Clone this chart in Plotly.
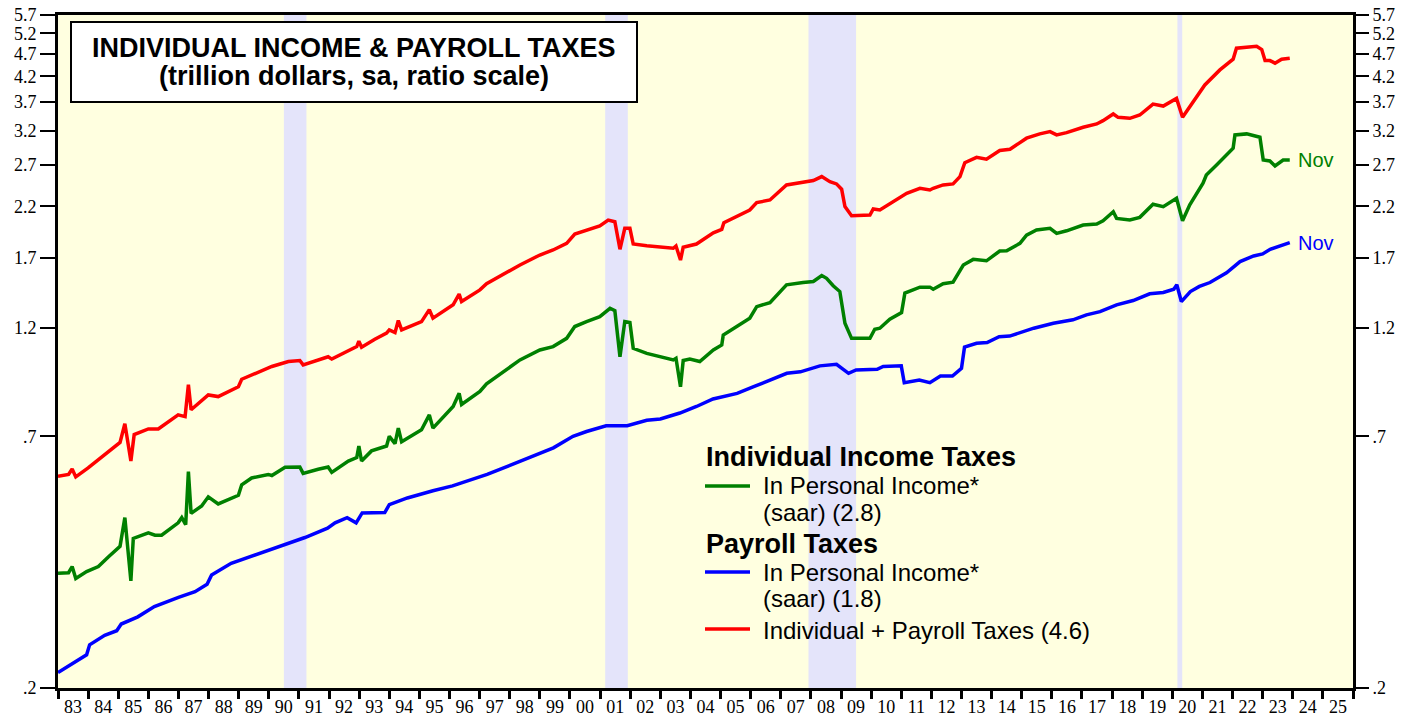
import math
import plotly.graph_objects as go

# ---------------- data (trillion dollars, saar) ----------------
blue_t = [1983.0, 1983.55, 1983.95, 1984.05, 1984.55, 1984.95, 1985.1, 1985.65, 1986.2, 1987.0,
          1987.55, 1987.95, 1988.1, 1988.75, 1989.55, 1990.45, 1991.2, 1991.95, 1992.2, 1992.6,
          1992.9, 1993.1, 1993.85, 1994.0, 1994.6, 1995.45, 1996.1, 1997.25, 1998.35, 1999.45,
          2000.1, 2000.55, 2001.2, 2001.9, 2002.55, 2003.0, 2003.65, 2004.2, 2004.75, 2005.55,
          2006.1, 2006.65, 2007.2, 2007.65, 2008.3, 2008.85, 2009.25, 2009.5, 2010.2, 2010.4,
          2011.0, 2011.1, 2011.6, 2011.95, 2012.3, 2012.7, 2013.0, 2013.1, 2013.5, 2013.85,
          2014.25, 2014.6, 2015.4, 2016.05, 2016.7, 2017.15, 2017.6, 2018.15, 2018.7, 2019.25,
          2019.7, 2020.05, 2020.15, 2020.3, 2020.6, 2020.9, 2021.25, 2021.8, 2022.25, 2022.7,
          2023.0, 2023.25, 2023.9]
blue_v = [0.216, 0.227, 0.236, 0.248, 0.260, 0.266, 0.275, 0.285, 0.300, 0.314,
          0.323, 0.335, 0.351, 0.372, 0.388, 0.407, 0.423, 0.443, 0.455, 0.467,
          0.455, 0.478, 0.479, 0.498, 0.515, 0.534, 0.547, 0.579, 0.619, 0.661,
          0.700, 0.717, 0.738, 0.738, 0.758, 0.763, 0.786, 0.812, 0.843, 0.867,
          0.896, 0.926, 0.958, 0.965, 0.994, 1.002, 0.958, 0.974, 0.977, 0.991,
          0.994, 0.914, 0.926, 0.914, 0.945, 0.945, 0.982, 1.091, 1.112, 1.116,
          1.149, 1.153, 1.199, 1.229, 1.250, 1.281, 1.302, 1.347, 1.376, 1.423,
          1.432, 1.456, 1.488, 1.369, 1.439, 1.476, 1.505, 1.580, 1.670, 1.718,
          1.735, 1.776, 1.835]

green_t = [1983.0, 1983.35, 1983.47, 1983.59, 1983.95, 1984.34, 1984.67, 1985.06, 1985.22, 1985.42,
           1985.5, 1986.0, 1986.22, 1986.44, 1986.99, 1987.11, 1987.24, 1987.33, 1987.42, 1987.77,
           1987.99, 1988.32, 1988.99, 1989.1, 1989.43, 1989.98, 1990.1, 1990.54, 1991.03, 1991.14,
           1991.64, 1991.97, 1992.09, 1992.64, 1992.92, 1992.99, 1993.08, 1993.41, 1993.91, 1994.0,
           1994.19, 1994.3, 1994.41, 1995.07, 1995.33, 1995.45, 1996.12, 1996.32, 1996.4, 1997.01,
           1997.23, 1998.34, 1999.0, 1999.44, 1999.89, 2000.16, 2000.55, 2000.99, 2001.33, 2001.49,
           2001.66, 2001.82, 2001.99, 2002.1, 2002.55, 2002.99, 2003.43, 2003.52, 2003.67, 2003.76,
           2003.98, 2004.31, 2004.76, 2005.04, 2005.09, 2005.97, 2006.2, 2006.64, 2007.19, 2007.74,
           2008.08, 2008.36, 2008.52, 2008.74, 2008.96, 2009.13, 2009.35, 2009.96, 2010.12, 2010.29,
           2010.62, 2011.01, 2011.12, 2011.62, 2011.95, 2012.06, 2012.39, 2012.72, 2013.06, 2013.39,
           2013.83, 2014.27, 2014.5, 2014.94, 2015.16, 2015.49, 2015.94, 2016.16, 2016.49, 2017.04,
           2017.49, 2017.7, 2018.04, 2018.15, 2018.59, 2018.92, 2019.36, 2019.7, 2020.14, 2020.34,
           2020.58, 2021.02, 2021.13, 2021.47, 2022.02, 2022.08, 2022.47, 2022.91, 2023.02, 2023.24,
           2023.41, 2023.68, 2023.9]
green_v = [0.354, 0.355, 0.366, 0.345, 0.357, 0.366, 0.384, 0.405, 0.467, 0.341,
           0.421, 0.433, 0.428, 0.428, 0.455, 0.467, 0.451, 0.587, 0.477, 0.495,
           0.518, 0.500, 0.522, 0.550, 0.569, 0.579, 0.576, 0.600, 0.601, 0.582,
           0.594, 0.601, 0.585, 0.619, 0.630, 0.667, 0.619, 0.651, 0.667, 0.700,
           0.675, 0.729, 0.681, 0.723, 0.779, 0.729, 0.812, 0.867, 0.820, 0.875,
           0.909, 1.024, 1.076, 1.094, 1.140, 1.209, 1.239, 1.270, 1.324, 1.308,
           1.040, 1.239, 1.233, 1.085, 1.058, 1.040, 1.024, 1.032, 0.896, 1.021,
           1.028, 1.016, 1.076, 1.103, 1.159, 1.260, 1.335, 1.362, 1.488, 1.505,
           1.513, 1.558, 1.537, 1.481, 1.439, 1.229, 1.140, 1.140, 1.193, 1.199,
           1.254, 1.296, 1.428, 1.471, 1.471, 1.456, 1.496, 1.508, 1.642, 1.689,
           1.677, 1.760, 1.763, 1.829, 1.906, 1.955, 1.971, 1.922, 1.947, 2.004,
           2.014, 2.047, 2.141, 2.071, 2.055, 2.082, 2.222, 2.196, 2.289, 2.047,
           2.215, 2.467, 2.570, 2.702, 2.937, 3.138, 3.154, 3.102, 2.770, 2.756,
           2.689, 2.770, 2.770]

red_t = [1983.0, 1983.35, 1983.47, 1983.59, 1984.0, 1984.56, 1985.06, 1985.22, 1985.42, 1985.53,
         1986.0, 1986.33, 1986.99, 1987.22, 1987.33, 1987.42, 1987.99, 1988.32, 1988.99, 1989.1,
         1989.54, 1990.1, 1990.65, 1991.03, 1991.14, 1991.97, 1992.09, 1992.64, 1992.92, 1992.99,
         1993.08, 1993.52, 1993.91, 1994.0, 1994.19, 1994.3, 1994.41, 1995.07, 1995.33, 1995.45,
         1996.12, 1996.32, 1996.4, 1997.01, 1997.23, 1998.34, 1999.0, 1999.44, 1999.89, 2000.16,
         2000.55, 2000.99, 2001.27, 2001.49, 2001.66, 2001.82, 2001.99, 2002.1, 2002.55, 2002.99,
         2003.43, 2003.52, 2003.67, 2003.76, 2004.2, 2004.76, 2005.04, 2005.11, 2005.97, 2006.2,
         2006.64, 2007.19, 2007.74, 2008.08, 2008.36, 2008.63, 2008.85, 2009.02, 2009.13, 2009.35,
         2009.96, 2010.07, 2010.29, 2010.62, 2010.95, 2011.18, 2011.62, 2011.95, 2012.06, 2012.39,
         2012.72, 2012.95, 2013.11, 2013.5, 2013.83, 2014.27, 2014.61, 2015.16, 2015.6, 2015.94,
         2016.16, 2016.49, 2017.04, 2017.49, 2017.7, 2018.04, 2018.2, 2018.59, 2018.92, 2019.36,
         2019.7, 2020.14, 2020.34, 2020.58, 2021.08, 2021.58, 2022.02, 2022.13, 2022.47, 2022.8,
         2022.97, 2023.08, 2023.24, 2023.41, 2023.63, 2023.9]
red_v = [0.574, 0.579, 0.595, 0.572, 0.598, 0.638, 0.679, 0.745, 0.619, 0.706,
         0.726, 0.726, 0.779, 0.772, 0.905, 0.799, 0.860, 0.853, 0.896, 0.930,
         0.958, 0.991, 1.016, 1.021, 0.999, 1.040, 1.028, 1.072, 1.094, 1.124,
         1.091, 1.135, 1.170, 1.189, 1.173, 1.246, 1.189, 1.239, 1.315, 1.260,
         1.347, 1.421, 1.369, 1.451, 1.496, 1.642, 1.726, 1.770, 1.829, 1.915,
         1.955, 1.994, 2.054, 2.037, 1.776, 1.971, 1.971, 1.823, 1.808, 1.799,
         1.785, 1.805, 1.683, 1.794, 1.823, 1.928, 1.961, 2.027, 2.160, 2.240,
         2.270, 2.446, 2.475, 2.500, 2.550, 2.487, 2.459, 2.395, 2.197, 2.099,
         2.106, 2.171, 2.160, 2.225, 2.289, 2.347, 2.406, 2.386, 2.406, 2.446,
         2.459, 2.550, 2.733, 2.807, 2.780, 2.903, 2.922, 3.087, 3.154, 3.190,
         3.138, 3.174, 3.260, 3.314, 3.369, 3.483, 3.425, 3.408, 3.465, 3.659,
         3.623, 3.764, 3.426, 3.611, 4.024, 4.337, 4.575, 4.833, 4.857, 4.880,
         4.800, 4.543, 4.543, 4.485, 4.575, 4.598]

rec_start = [1990.5, 2001.17, 2007.92, 2020.17]
rec_end = [1991.25, 2001.92, 2009.5, 2020.33]

y_ticks = [0.2, 0.7, 1.2, 1.7, 2.2, 2.7, 3.2, 3.7, 4.2, 4.7, 5.2, 5.7]
y_ticktext = [".2", ".7", "1.2", "1.7", "2.2", "2.7", "3.2", "3.7", "4.2", "4.7", "5.2", "5.7"]
years = list(range(1983, 2026))
year_labels = [f"{y % 100:02d}" for y in years]

GREEN = "#008000"
BLUE = "#0000FF"
RED = "#FF0000"
SANS = "Liberation Sans, Arial, sans-serif"
SERIF = "Liberation Serif, Times New Roman, serif"

fig = go.Figure()
for t, v, c in [(red_t, red_v, RED), (green_t, green_v, GREEN), (blue_t, blue_v, BLUE)]:
    fig.add_trace(go.Scatter(x=t, y=v, mode="lines", line=dict(color=c, width=3.5),
                             showlegend=False, hoverinfo="skip"))
# invisible trace for right-hand axis
fig.add_trace(go.Scatter(x=blue_t, y=blue_v, yaxis="y2", mode="lines",
                         line=dict(color="rgba(0,0,0,0)", width=0), showlegend=False,
                         hoverinfo="skip"))

yr = [math.log10(0.2), math.log10(5.7)]

shapes = []
for s, e in zip(rec_start, rec_end):
    shapes.append(dict(type="rect", xref="x", yref="paper", x0=s, x1=e, y0=0, y1=1,
                       fillcolor="#E4E4FA", line=dict(width=0), layer="below"))

W = 1295.0
H = 673.0
def px(x):
    return (x - 58) / W
def py(y):
    return (688 - y) / H

# title box
shapes.append(dict(type="rect", xref="paper", yref="paper", x0=px(71), x1=px(637),
                   y0=py(102), y1=py(22), fillcolor="white", line=dict(color="black", width=2)))
# legend keys
for yk, c in [(486, GREEN), (572, BLUE), (629, RED)]:
    shapes.append(dict(type="line", xref="paper", yref="paper", x0=px(705), x1=px(750),
                       y0=py(yk), y1=py(yk), line=dict(color=c, width=3.5)))

ann = []
def text(x, y, s, size, bold=False, color="black", xanchor="left"):
    ann.append(dict(xref="paper", yref="paper", x=px(x), y=py(y), text=(f"<b>{s}</b>" if bold else s),
                    showarrow=False, xanchor=xanchor, yanchor="middle",
                    font=dict(family=SANS, size=size, color=color)))

text(354, 48, "INDIVIDUAL INCOME &amp; PAYROLL TAXES", 27, bold=True, xanchor="center")
text(354, 76, "(trillion dollars, sa, ratio scale)", 27, bold=True, xanchor="center")
text(704, 457, "Individual Income Taxes", 27, bold=True)
text(761, 486, "In Personal Income*", 24)
text(761, 512, "(saar) (2.8)", 24)
text(704, 544, "Payroll Taxes", 27, bold=True)
text(761, 572, "In Personal Income*", 24)
text(761, 598, "(saar) (1.8)", 24)
text(761, 630, "Individual + Payroll Taxes (4.6)", 24)

ann.append(dict(x=green_t[-1], y=math.log10(green_v[-1]), xref="x", yref="y", text="Nov",
                showarrow=False, xanchor="left", yanchor="middle", xshift=6,
                font=dict(family=SANS, size=20, color=GREEN)))
ann.append(dict(x=blue_t[-1], y=math.log10(blue_v[-1]), xref="x", yref="y", text="Nov",
                showarrow=False, xanchor="left", yanchor="middle", xshift=6,
                font=dict(family=SANS, size=20, color=BLUE)))

yaxis_common = dict(type="log", range=yr, tickmode="array", tickvals=y_ticks, ticktext=y_ticktext,
                    ticks="outside", ticklen=15, tickwidth=2, tickcolor="black",
                    showgrid=False, zeroline=False,
                    tickfont=dict(family=SERIF, size=18, color="black"))

fig.update_layout(
    width=1419, height=719,
    margin=dict(l=58, r=66, t=15, b=31, autoexpand=False),
    paper_bgcolor="white", plot_bgcolor="#FFFFE0",
    xaxis=dict(range=[1983, 2026], tickmode="array", tickvals=[y + 0.5 for y in years],
               ticktext=year_labels, ticks="", showgrid=False, zeroline=False,
               showline=True, linewidth=3, linecolor="black", mirror=True,
               tickfont=dict(family=SERIF, size=18, color="black"),
               minor=dict(tickmode="array", tickvals=list(range(1983, 2027)), ticks="outside",
                          ticklen=8, tickwidth=2.5, tickcolor="black", showgrid=False)),
    yaxis=dict(**yaxis_common, showline=True, linewidth=3, linecolor="black", mirror=True),
    yaxis2=dict(**yaxis_common, overlaying="y", side="right", showline=False),
    shapes=shapes, annotations=ann,
)

fig.write_html("out.html", config={"displayModeBar": False},
               post_script="document.body.style.margin='0';document.body.style.padding='0';")
